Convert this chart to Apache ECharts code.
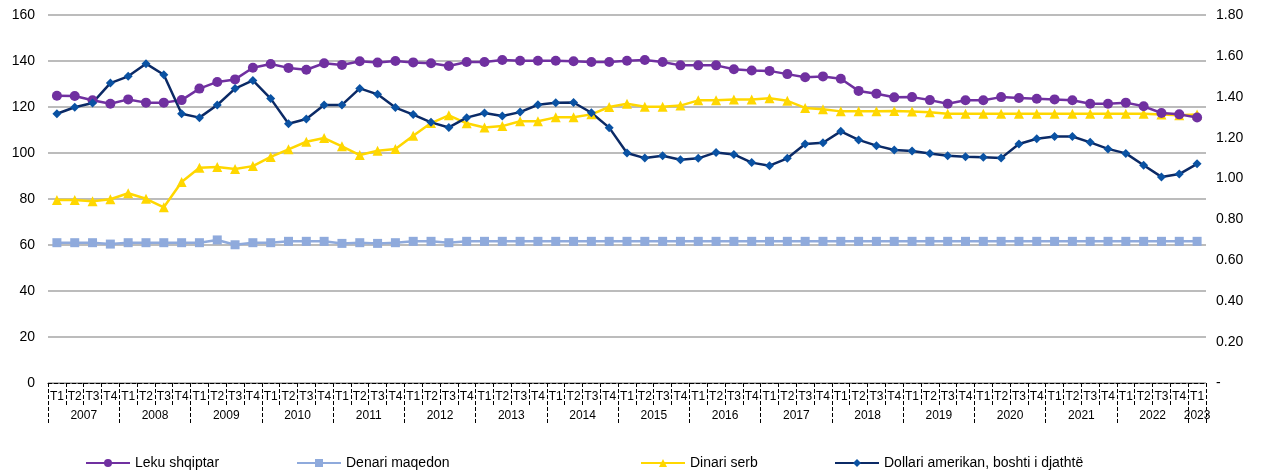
<!DOCTYPE html>
<html>
<head>
<meta charset="utf-8">
<script src="https://cdn.jsdelivr.net/npm/echarts@6/dist/echarts.min.js"></script>
<style>
  html, body { margin: 0; padding: 0; background: #fff; }
  #chart { width: 1266px; height: 476px; }
</style>
</head>
<body>
<div id="chart"></div>
<script>
// kategorite: tremujoret 2007 T1 - 2023 T1
const years = ['2007', '2008', '2009', '2010', '2011', '2012', '2013', '2014', '2015',
  '2016', '2017', '2018', '2019', '2020', '2021', '2022', '2023']
const quarters = []
const quarterYear = []
years.forEach((y, k) => {
  const n = y === '2023' ? 1 : 4
  for (let q = 1; q <= n; q++) {
    quarters.push('T' + q)
    quarterYear.push(y)
  }
})

const lekuShqiptar = [
  124.9, 124.8, 122.9, 121.4, 123.3, 121.9, 121.9, 123.0, 128.0, 130.9, 132.0, 137.1,
  138.7, 137.0, 136.2, 139.0, 138.3, 139.9, 139.3, 140.0, 139.4, 139.0, 137.8, 139.6,
  139.6, 140.4, 140.1, 140.1, 140.1, 139.9, 139.6, 139.6, 140.1, 140.4, 139.6, 138.1,
  138.1, 138.1, 136.4, 135.9, 135.7, 134.3, 132.9, 133.3, 132.3, 127.0, 125.8, 124.2,
  124.3, 123.0, 121.4, 122.9, 122.9, 124.3, 123.9, 123.6, 123.3, 122.9, 121.4, 121.4,
  121.9, 120.3, 117.4, 116.8, 115.4
]
const denariMaqedon = [
  61.0, 61.0, 61.0, 60.4, 61.0, 61.0, 61.0, 61.0, 61.0, 62.2, 60.1, 61.0,
  61.0, 61.6, 61.6, 61.6, 60.7, 61.0, 60.7, 61.0, 61.6, 61.6, 61.0, 61.6,
  61.6, 61.6, 61.6, 61.6, 61.6, 61.6, 61.6, 61.6, 61.6, 61.6, 61.6, 61.6,
  61.6, 61.6, 61.6, 61.6, 61.6, 61.6, 61.6, 61.6, 61.6, 61.6, 61.6, 61.6,
  61.6, 61.6, 61.6, 61.6, 61.6, 61.6, 61.6, 61.6, 61.6, 61.6, 61.6, 61.6,
  61.6, 61.6, 61.6, 61.6, 61.6
]
const dinariSerb = [
  79.6, 79.6, 79.0, 79.9, 82.5, 80.1, 76.4, 87.4, 93.6, 93.9, 93.0, 94.3,
  98.3, 101.6, 104.9, 106.5, 102.9, 99.1, 101.0, 101.7, 107.5, 113.0, 116.4, 112.9,
  111.1, 111.7, 113.8, 113.8, 115.5, 115.5, 116.8, 120.0, 121.4, 120.1, 120.1, 120.6,
  122.9, 122.9, 123.3, 123.3, 123.8, 122.7, 119.6, 119.0, 118.1, 118.1, 118.1, 118.3,
  118.0, 117.7, 117.1, 117.1, 117.1, 117.1, 117.1, 117.1, 117.1, 117.1, 117.1, 117.1,
  117.1, 117.1, 116.7, 116.4, 116.7
]
// boshti i djathte
const dollariAmerikan = [
  1.317, 1.349, 1.370, 1.467, 1.500, 1.562, 1.508, 1.317, 1.298, 1.360, 1.440, 1.480,
  1.391, 1.268, 1.291, 1.360, 1.360, 1.441, 1.412, 1.347, 1.313, 1.275, 1.250, 1.298,
  1.321, 1.306, 1.325, 1.361, 1.371, 1.372, 1.322, 1.249, 1.125, 1.100, 1.112, 1.092,
  1.099, 1.128, 1.118, 1.078, 1.063, 1.099, 1.169, 1.175, 1.231, 1.189, 1.161, 1.140,
  1.135, 1.123, 1.112, 1.107, 1.104, 1.100, 1.169, 1.195, 1.206, 1.206, 1.177, 1.145,
  1.123, 1.065, 1.008, 1.022, 1.072
]

const font = 'Liberation Sans, Arial, sans-serif'
const dash = { color: '#000', width: 1, type: 'dashed' }

const chart = echarts.init(document.getElementById('chart'))

function legendAt(name, left) {
  return {
    data: [name],
    left: left,
    top: 451,
    itemWidth: 44,
    itemHeight: 10,
    textStyle: { fontFamily: font, fontSize: 14, color: '#000' }
  }
}

const option = {
  animation: false,
  textStyle: { fontFamily: font },
  grid: { left: 48, right: 60, top: 15, bottom: 93 },
  legend: [
    legendAt('Leku shqiptar', 80),
    legendAt('Denari maqedon', 291),
    legendAt('Dinari serb', 635),
    legendAt('Dollari amerikan, boshti i djathtë', 829)
  ],
  xAxis: [
    {
      type: 'category',
      data: quarters,
      boundaryGap: true,
      axisLine: { show: true, lineStyle: dash },
      axisTick: { show: true, interval: 0, length: 22, lineStyle: dash },
      axisLabel: { interval: 0, margin: 8, fontSize: 12, color: '#000', fontFamily: font }
    },
    {
      type: 'category',
      data: quarterYear,
      boundaryGap: true,
      position: 'bottom',
      axisLine: { show: false, onZero: false },
      axisTick: {
        show: true,
        length: 42,
        lineStyle: dash,
        interval: (i) => i % 4 === 0
      },
      axisLabel: {
        margin: 27,
        fontSize: 12,
        color: '#000',
        fontFamily: font,
        interval: (i) => i % 4 === 1 || i === 64,
        formatter: (v, i) => (i === 64 ? '{b|' + v + '}' : '{a|' + v + '}'),
        rich: {
          a: { padding: [0, 0, 0, 18], fontSize: 12, fontFamily: font, color: '#000' },
          b: { fontSize: 12, fontFamily: font, color: '#000' }
        }
      }
    }
  ],
  yAxis: [
    {
      type: 'value',
      min: 0,
      max: 160,
      interval: 20,
      axisLine: { show: false },
      axisTick: { show: false },
      axisLabel: { fontSize: 14, color: '#000', margin: 13, fontFamily: font },
      splitLine: { lineStyle: { color: '#a6a6a6', width: 1.5 } }
    },
    {
      type: 'value',
      min: 0,
      max: 1.8,
      interval: 0.2,
      axisLine: { show: false },
      axisTick: { show: false },
      splitLine: { show: false },
      axisLabel: {
        fontSize: 14,
        color: '#000',
        margin: 10,
        fontFamily: font,
        formatter: (v) => (v === 0 ? '-' : v.toFixed(2))
      }
    }
  ],
  series: [
    {
      name: 'Denari maqedon',
      type: 'line',
      data: denariMaqedon,
      symbol: 'rect',
      symbolSize: 9,
      lineStyle: { color: '#8faadc', width: 2.5 },
      itemStyle: { color: '#8faadc' }
    },
    {
      name: 'Dinari serb',
      type: 'line',
      data: dinariSerb,
      symbol: 'triangle',
      symbolSize: 10,
      lineStyle: { color: '#ffd700', width: 2.5 },
      itemStyle: { color: '#ffd700' }
    },
    {
      name: 'Leku shqiptar',
      type: 'line',
      data: lekuShqiptar,
      symbol: 'circle',
      symbolSize: 10,
      lineStyle: { color: '#7030a0', width: 2.5 },
      itemStyle: { color: '#7030a0' }
    },
    {
      name: 'Dollari amerikan, boshti i djathtë',
      type: 'line',
      yAxisIndex: 1,
      data: dollariAmerikan,
      symbol: 'diamond',
      symbolSize: 9,
      lineStyle: { color: '#0b2a66', width: 2.5 },
      itemStyle: { color: '#0a52a3' }
    }
  ]
}

chart.setOption(option)
</script>
</body>
</html>
